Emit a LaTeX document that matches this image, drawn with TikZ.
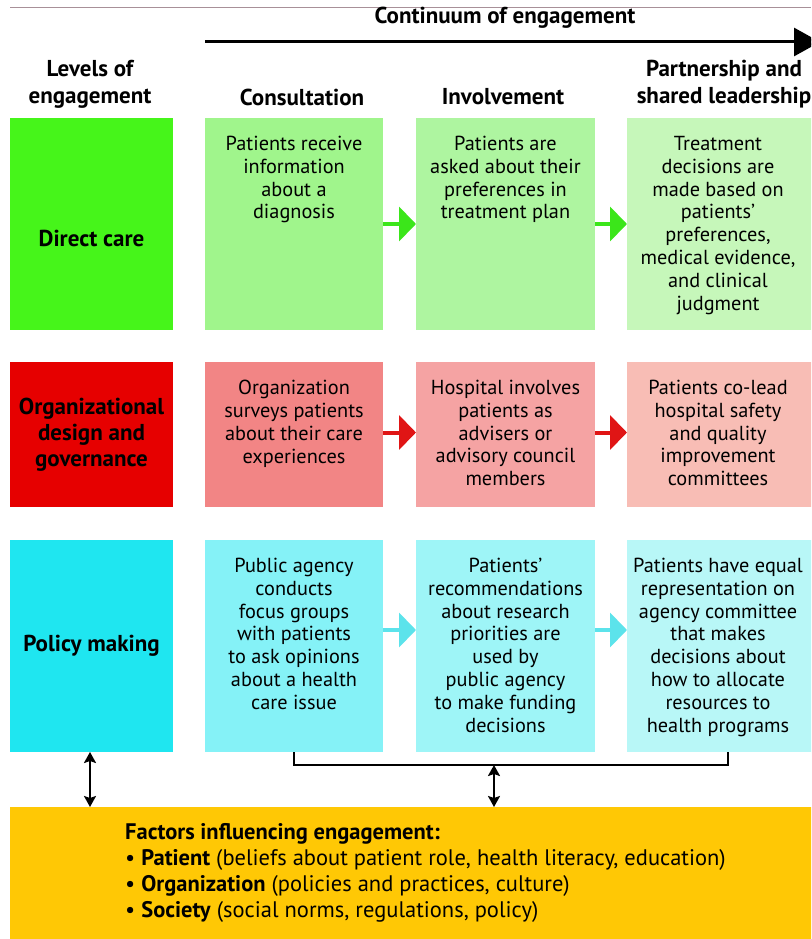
\documentclass[tikz,border=0pt]{standalone}
\usepackage{fontspec}
\setmainfont{PT Sans}
\usetikzlibrary{arrows.meta,calc}
\definecolor{dgreen}{HTML}{46F51A}
\definecolor{gA}{HTML}{A0F58C}
\definecolor{gB}{HTML}{AEF5A0}
\definecolor{gC}{HTML}{C6F7BA}
\definecolor{dred}{HTML}{E60000}
\definecolor{rA}{HTML}{F28585}
\definecolor{rB}{HTML}{F5A3A3}
\definecolor{rC}{HTML}{F8BDB5}
\definecolor{dcyan}{HTML}{1FE6F0}
\definecolor{cA}{HTML}{85F2F7}
\definecolor{cB}{HTML}{9EF5F7}
\definecolor{cC}{HTML}{B8F7F7}
\definecolor{fyellow}{HTML}{FFC805}
\definecolor{garr}{HTML}{3BE61A}
\definecolor{rarr}{HTML}{E01515}
\definecolor{carr}{HTML}{5CE3EB}
\definecolor{topline}{HTML}{A89098}
\tikzset{
  box/.style={draw=none,inner sep=0pt,outer sep=0pt,minimum width=#1},
  tall/.style={minimum height=212pt},
  short/.style={minimum height=145pt},
  txt/.style={inner sep=0pt,align=center,anchor=north,font=\fontsize{20.3}{22.8}\selectfont},
  lvl/.style={inner sep=0pt,align=center,font=\fontsize{23}{26}\selectfont\bfseries},
  hdr/.style={inner sep=0pt,align=center,font=\fontsize{23}{27}\selectfont\bfseries},
  rowarrow/.style={line width=4pt,-{Triangle[length=17pt,width=34pt]}},
  dblarrow/.style={line width=2pt,{Stealth[length=11pt,width=12pt,inset=2pt]}-{Stealth[length=11pt,width=12pt,inset=2pt]}},
}
\begin{document}
\begin{tikzpicture}[x=1pt,y=-1pt]
\useasboundingbox (0,0) rectangle (811,939);
\clip (0,0) rectangle (811,939);
% top faint line
\coordinate (tl1) at (10,8);
\coordinate (tl2) at (811,8);
\draw[topline,line width=1pt] (tl1) -- (tl2);
% continuum header
\node[hdr] (cont) at (505,18) {Continuum of engagement};
\coordinate (cs) at (205,42);
\coordinate (ce) at (820,42);
\draw[line width=3pt,-{Triangle[length=26pt,width=28pt]}] (cs) -- (ce);
% column headers
\node[hdr] (hlev) at (90,84) {Levels of\\engagement};
\node[hdr] (hcon) at (302,97) {Consultation};
\node[hdr] (hinv) at (503,97) {Involvement};
\node[hdr] (hpar) at (724,84) {Partnership and\\shared leadership};
% row 1
\node[box=163pt,tall,fill=dgreen] (d1) at (91.5,224) {};
\node[lvl] (d1t) at ([yshift=-14pt]d1) {Direct care};
\node[box=178pt,tall,fill=gA] (g1) at (294,224) {};
\node[box=179pt,tall,fill=gB] (g2) at (505.5,224) {};
\node[box=190pt,tall,fill=gC] (g3) at (722,224) {};
\node[txt] (g1t) at ([yshift=-18pt]g1.north) {Patients receive\\information\\about a\\diagnosis};
\node[txt] (g2t) at ([yshift=-18pt]g2.north) {Patients are\\asked about their\\preferences in\\treatment plan};
\node[txt] (g3t) at ([yshift=-18pt,xshift=-4pt]g3.north) {Treatment\\decisions are\\made based on\\patients’\\preferences,\\medical evidence,\\and clinical\\judgment};
\draw[rowarrow,garr] (g1.east) -- (g2.west);
\draw[rowarrow,garr] (g2.east) -- (g3.west);
% row 2
\node[box=163pt,short,fill=dred] (d2) at (91.5,434.5) {};
\node[lvl] (d2t) at (d2) {Organizational\\design and\\governance};
\node[box=178pt,short,fill=rA] (r1) at (294,434.5) {};
\node[box=179pt,short,fill=rB] (r2) at (505.5,434.5) {};
\node[box=190pt,short,fill=rC] (r3) at (722,434.5) {};
\node[txt] (r1t) at ([yshift=-18pt]r1.north) {Organization\\surveys patients\\about their care\\experiences};
\node[txt] (r2t) at ([yshift=-18pt]r2.north) {Hospital involves\\patients as\\advisers or\\advisory council\\members};
\node[txt] (r3t) at ([yshift=-18pt,xshift=-4pt]r3.north) {Patients co-lead\\hospital safety\\and quality\\improvement\\committees};
\draw[rowarrow,rarr] ([yshift=2pt]r1.east) -- ([yshift=2pt]r2.west);
\draw[rowarrow,rarr] ([yshift=2pt]r2.east) -- ([yshift=2pt]r3.west);
% row 3
\node[box=163pt,tall,fill=dcyan] (d3) at (91.5,646) {};
\node[lvl] (d3t) at (d3) {Policy making};
\node[box=178pt,tall,fill=cA] (c1) at (294,646) {};
\node[box=179pt,tall,fill=cB] (c2) at (505.5,646) {};
\node[box=190pt,tall,fill=cC] (c3) at (722,646) {};
\node[txt] (c1t) at ([yshift=-18pt]c1.north) {Public agency\\conducts\\focus groups\\with patients\\to ask opinions\\about a health\\care issue};
\node[txt] (c2t) at ([yshift=-18pt]c2.north) {Patients’\\recommendations\\about research\\priorities are\\used by\\public agency\\to make funding\\decisions};
\node[txt] (c3t) at ([yshift=-18pt,xshift=-4pt]c3.north) {Patients have equal\\representation on\\agency committee\\that makes\\decisions about\\how to allocate\\resources to\\health programs};
\draw[rowarrow,carr] ([yshift=16pt]c1.east) -- ([yshift=16pt]c2.west);
\draw[rowarrow,carr] ([yshift=16pt]c2.east) -- ([yshift=16pt]c3.west);
% factors box
\node[box=805pt,minimum height=140pt,fill=fyellow,anchor=north west] (fac) at (10,807) {};
\node[inner sep=0pt,anchor=north west,align=left,font=\fontsize{22.5}{26}\selectfont] (fact) at (125,823)
  {\textbf{Factors influencing engagement:}\\
   \textbullet\ \textbf{Patient} (beliefs about patient role, health literacy, education)\\
   \textbullet\ \textbf{Organization} (policies and practices, culture)\\
   \textbullet\ \textbf{Society} (social norms, regulations, policy)};
% bracket and double arrows
\coordinate (bm) at (494,765);
\draw[line width=2pt] (c1.south) -- ++(0,13) -| ([xshift=6pt]c3.south);
\draw[dblarrow] (bm) -- (bm |- fac.north);
\draw[dblarrow] ([xshift=-1.5pt]d3.south) -- ([xshift=-1.5pt]d3.south |- fac.north);
\end{tikzpicture}
\end{document}
